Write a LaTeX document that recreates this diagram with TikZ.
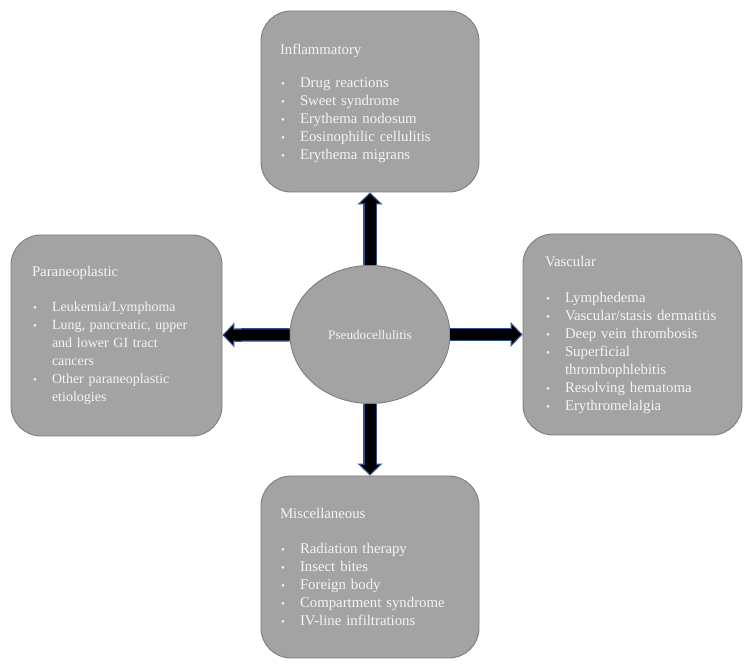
\documentclass[tikz,border=0pt]{standalone}
\usepackage{fontspec}
\setmainfont{Liberation Serif}
\usetikzlibrary{shapes.geometric,arrows.meta}
\definecolor{boxgray}{RGB}{163,163,163}
\definecolor{boxline}{RGB}{125,125,125}
\definecolor{txtc}{RGB}{244,244,244}
\definecolor{arrblue}{RGB}{47,82,143}
\newcommand\bitem[1]{\makebox[20pt][l]{\hspace*{1pt}{\fontsize{11}{11}\selectfont •}}#1}
\newcommand\bcont[1]{\hspace*{20pt}#1}
\newcommand\tstrut{\rule{0pt}{15.2pt}}
\tikzset{
  catbox/.style={draw=boxline, line width=0.9pt, fill=boxgray, rounded corners=30pt,
    text=txtc, align=left, inner ysep=0pt, font=\fontsize{14.8}{18}\selectfont},
  centre/.style={ellipse, draw=boxline, line width=0.9pt, fill=boxgray, text=txtc,
    minimum width=160pt, minimum height=138pt, inner sep=0pt, font=\fontsize{13.2}{15}\selectfont},
  arrback/.style={line width=13.5pt, draw=arrblue,
    -{Triangle[width=25pt,length=12pt,line width=0pt,fill=arrblue,color=arrblue]}},
  arrfront/.style={line width=11pt, draw=black, shorten >=1.75pt,
    -{Triangle[width=18.7pt,length=9pt,line width=0pt,fill=black,color=black]}},
}
\begin{document}
\begin{tikzpicture}[x=1pt,y=1pt]
\useasboundingbox (0,0) rectangle (750,666);
\node[centre] (c) at (370,331.5) {Pseudocellulitis};
\node[catbox, minimum width=218pt, minimum height=181pt, text width=180pt, inner xsep=19pt] (top) at (370,564.5)
{\tstrut Inflammatory\\[15pt]
\bitem{Drug reactions}\\
\bitem{Sweet syndrome}\\
\bitem{Erythema nodosum}\\
\bitem{Eosinophilic cellulitis}\\
\bitem{Erythema migrans}};
\node[catbox, minimum width=211pt, minimum height=201pt, text width=169pt, inner xsep=21pt,
  font=\fontsize{14}{18}\selectfont] (left) at (116.5,330.5)
{{\fontsize{14.8}{18}\selectfont Paraneoplastic}\\[17.7pt]
\bitem{Leukemia/Lymphoma}\\
\bitem{Lung, pancreatic, upper}\\
\bcont{and lower GI tract}\\
\bcont{cancers}\\
\bitem{Other paraneoplastic}\\
\bcont{etiologies}};
\node[catbox, minimum width=219pt, minimum height=201pt, text width=175pt, inner xsep=22pt] (right) at (632.5,331.5)
{Vascular\\[18pt]
\bitem{Lymphedema}\\
\bitem{Vascular/stasis dermatitis}\\
\bitem{Deep vein thrombosis}\\
\bitem{Superficial}\\
\bcont{thrombophlebitis}\\
\bitem{Resolving hematoma}\\
\bitem{Erythromelalgia}};
\node[catbox, minimum width=218pt, minimum height=182pt, text width=180pt, inner xsep=19pt] (bottom) at (370,99)
{Miscellaneous\\[17pt]
\bitem{Radiation therapy}\\
\bitem{Insect bites}\\
\bitem{Foreign body}\\
\bitem{Compartment syndrome}\\
\bitem{IV-line infiltrations}};
\foreach \t in {top,left,right,bottom}{
  \draw[arrback] (c) -- (\t);
  \draw[arrfront] (c) -- (\t);
}
\end{tikzpicture}
\end{document}
